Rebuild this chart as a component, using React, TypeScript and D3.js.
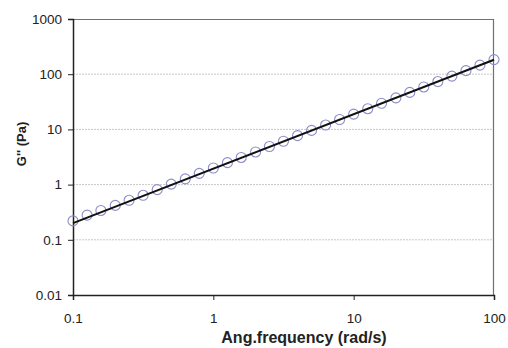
import * as d3 from 'd3';
import React, { useEffect, useRef } from 'react';

// Frecuencia angular (rad/s), 10 puntos por década
const freq = [
  0.1, 0.126, 0.158, 0.2, 0.251, 0.316, 0.398, 0.501, 0.631, 0.794, 1, 1.26,
  1.58, 2, 2.51, 3.16, 3.98, 5.01, 6.31, 7.94, 10, 12.6, 15.8, 20, 25.1, 31.6,
  39.8, 50.1, 63.1, 79.4, 100,
];
// G'' medido (Pa)
const gLoss = [
  0.22, 0.28, 0.34, 0.42, 0.52, 0.64, 0.81, 1.02, 1.27, 1.6, 2.0, 2.5, 3.1,
  3.9, 4.9, 6.1, 7.7, 9.6, 12.0, 15.1, 18.9, 23.7, 29.7, 37.3, 46.8, 58.7,
  73.6, 92.3, 116, 146, 184,
];
// Ajuste (línea negra)
const fitFreq = [0.1, 100];
const fitG = [0.2, 183];

const xTicks = [0.1, 1, 10, 100];
const yTicks = [0.01, 0.1, 1, 10, 100, 1000];

const App: React.FC = () => {
  const ref = useRef<SVGSVGElement | null>(null);

  useEffect(() => {
    if (!ref.current) return;
    const svg = d3.select(ref.current);
    svg.selectAll('*').remove();

    const margin = { top: 19, right: 14, bottom: 53, left: 73 };
    const W = 508;
    const H = 348;
    const width = W - margin.left - margin.right;
    const height = H - margin.top - margin.bottom;

    const x = d3.scaleLog().domain([0.1, 100]).range([0, width]);
    const y = d3.scaleLog().domain([0.01, 1000]).range([height, 0]);

    const g = svg
      .append('g')
      .attr('transform', `translate(${margin.left},${margin.top})`);

    // Rejilla
    g.selectAll('line.grid')
      .data(yTicks.slice(1, -1))
      .enter()
      .append('line')
      .attr('x1', 0)
      .attr('x2', width)
      .attr('y1', (d) => y(d))
      .attr('y2', (d) => y(d))
      .attr('stroke', '#c8c8c8')
      .attr('stroke-width', 1)
      .attr('stroke-dasharray', '2,1');

    // Marco superior y derecho
    g.append('path')
      .attr('d', `M0,0.5H${width - 0.5}V${height}`)
      .attr('fill', 'none')
      .attr('stroke', '#707070')
      .attr('stroke-width', 1.2);

    const font = 'Liberation Sans, Arial, sans-serif';

    // Eje Y
    const yAxis = d3
      .axisLeft(y)
      .tickValues(yTicks)
      .tickFormat((d) => String(d))
      .tickSize(5)
      .tickPadding(6);
    const ya = g.append('g').call(yAxis);
    ya.select('.domain').attr('stroke', '#222').attr('stroke-width', 1.5);
    ya.selectAll('.tick line').attr('stroke', '#222');
    ya.selectAll('text')
      .attr('font-family', font)
      .attr('font-size', 13.5)
      .attr('fill', '#222');

    // Eje X
    const xAxis = d3
      .axisBottom(x)
      .tickValues(xTicks)
      .tickFormat((d) => String(d))
      .tickSize(5)
      .tickPadding(13);
    const xa = g
      .append('g')
      .attr('transform', `translate(0,${height})`)
      .call(xAxis);
    xa.select('.domain').attr('stroke', '#222').attr('stroke-width', 1.5);
    xa.selectAll('.tick line').attr('stroke', '#222');
    xa.selectAll('text')
      .attr('font-family', font)
      .attr('font-size', 13.5)
      .attr('fill', '#222');

    // Puntos
    g.selectAll('circle')
      .data(freq.map((f, i) => ({ f, v: gLoss[i] })))
      .enter()
      .append('circle')
      .attr('cx', (d) => x(d.f))
      .attr('cy', (d) => y(d.v))
      .attr('r', 5)
      .attr('fill', 'none')
      .attr('stroke', '#8c8cc8')
      .attr('stroke-width', 1.1);

    // Línea de ajuste
    const line = d3
      .line<number>()
      .x((d) => x(d))
      .y((_, i) => y(fitG[i]));
    g.append('path')
      .datum(fitFreq)
      .attr('d', line)
      .attr('fill', 'none')
      .attr('stroke', '#111')
      .attr('stroke-width', 2);

    // Títulos de ejes
    svg
      .append('text')
      .attr('x', 304)
      .attr('y', 343)
      .attr('text-anchor', 'middle')
      .attr('font-family', font)
      .attr('font-weight', 'bold')
      .attr('font-size', 16)
      .attr('fill', '#222')
      .text('Ang.frequency (rad/s)');

    svg
      .append('text')
      .attr('transform', 'translate(26,144) rotate(-90)')
      .attr('text-anchor', 'middle')
      .attr('font-family', font)
      .attr('font-weight', 'bold')
      .attr('font-size', 13)
      .attr('fill', '#222')
      .text("G'' (Pa)");
  }, []);

  return (
    <div style={{ position: 'absolute', left: 0, top: 0 }}>
      <svg ref={ref} width={508} height={348} style={{ display: 'block' }} />
    </div>
  );
};

export default App;
